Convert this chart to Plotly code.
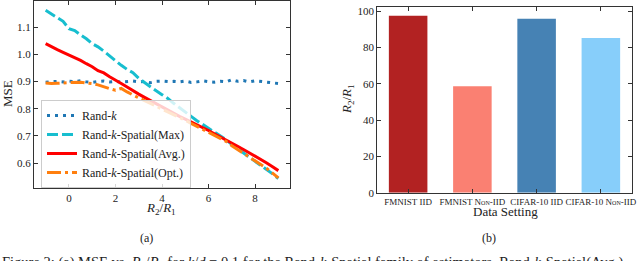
import plotly.graph_objects as go

W, H = 640, 261

# ---------------- data ----------------
ratio_x = [-1.0, -0.75, -0.5, -0.25, 0.0, 0.25, 0.5, 0.75, 1.0, 1.25, 1.5, 1.75,
           2.0, 2.25, 2.5, 2.75, 3.0, 3.25, 3.5, 3.75, 4.0, 4.25, 4.5, 4.75,
           5.0, 5.25, 5.5, 5.75, 6.0, 6.25, 6.5, 6.75, 7.0, 7.25, 7.5, 7.75,
           8.0, 8.25, 8.5, 8.75, 9.0]

mse_randk = [0.898, 0.900, 0.901, 0.899, 0.902, 0.900, 0.903, 0.899, 0.897, 0.900,
             0.902, 0.899, 0.901, 0.898, 0.900, 0.902, 0.899, 0.901, 0.896, 0.901,
             0.902, 0.900, 0.901, 0.899, 0.902, 0.897, 0.899, 0.903, 0.900, 0.898,
             0.901, 0.899, 0.907, 0.901, 0.904, 0.899, 0.903, 0.900, 0.899, 0.896,
             0.893]

mse_max = [1.163, 1.150, 1.138, 1.122, 1.095, 1.088, 1.072, 1.058, 1.040, 1.028,
           1.012, 0.995, 0.975, 0.960, 0.945, 0.933, 0.912, 0.896, 0.880, 0.866,
           0.852, 0.838, 0.820, 0.805, 0.790, 0.772, 0.756, 0.742, 0.728, 0.714,
           0.700, 0.686, 0.668, 0.653, 0.638, 0.622, 0.607, 0.592, 0.577, 0.560,
           0.543]

mse_avg = [1.040, 1.028, 1.018, 1.008, 0.998, 0.990, 0.978, 0.966, 0.955, 0.940,
           0.932, 0.918, 0.904, 0.893, 0.880, 0.866, 0.854, 0.842, 0.830, 0.818,
           0.808, 0.796, 0.784, 0.772, 0.762, 0.752, 0.740, 0.729, 0.720, 0.708,
           0.697, 0.686, 0.672, 0.662, 0.650, 0.638, 0.626, 0.612, 0.600, 0.586,
           0.572]

mse_opt = [0.895, 0.893, 0.894, 0.895, 0.897, 0.899, 0.898, 0.895, 0.893, 0.888,
           0.880, 0.874, 0.868, 0.875, 0.862, 0.850, 0.840, 0.830, 0.820, 0.810,
           0.800, 0.790, 0.778, 0.767, 0.757, 0.746, 0.735, 0.724, 0.714, 0.703,
           0.692, 0.680, 0.664, 0.650, 0.637, 0.622, 0.610, 0.595, 0.580, 0.563,
           0.545]

settings = ["FMNIST IID", "FMNIST Non-IID", "CIFAR-10 IID", "CIFAR-10 Non-IID"]
setting_ratio = [97.4, 58.6, 95.8, 85.1]
bar_colors = ["#b22222", "#fa8072", "#4682b4", "#87cefa"]

left_xticks = [0, 2, 4, 6, 8]
left_yticks = [0.6, 0.7, 0.8, 0.9, 1.0, 1.1]
right_yticks = [0, 20, 40, 60, 80, 100]

# ---------------- helpers ----------------
def px(x):
    return x / W

def py(y):
    return 1 - y / H

FONT = "Liberation Serif, Times New Roman, serif"
FRAME = "#333333"
R21 = "<i>R</i><sub>2</sub>/<i>R</i><sub>1</sub>"

fig = go.Figure()

fig.add_trace(go.Scatter(x=ratio_x, y=mse_randk, mode="lines", name="Rand-<i>k</i>",
                         line=dict(color="#1f77b4", width=3, dash="3px,5px"),
                         xaxis="x", yaxis="y"))
fig.add_trace(go.Scatter(x=ratio_x, y=mse_max, mode="lines", name="Rand-<i>k</i>-Spatial(Max)",
                         line=dict(color="#17becf", width=3, dash="11px,4px"),
                         xaxis="x", yaxis="y"))
fig.add_trace(go.Scatter(x=ratio_x, y=mse_avg, mode="lines", name="Rand-<i>k</i>-Spatial(Avg.)",
                         line=dict(color="#ff0000", width=3),
                         xaxis="x", yaxis="y"))
fig.add_trace(go.Scatter(x=ratio_x, y=mse_opt, mode="lines", name="Rand-<i>k</i>-Spatial(Opt.)",
                         line=dict(color="#ff7f0e", width=3, dash="14px,4px,3px,4px"),
                         xaxis="x", yaxis="y"))

fig.add_trace(go.Bar(x=list(range(len(settings))), y=setting_ratio, width=0.6,
                     marker=dict(color=bar_colors, line=dict(width=0)),
                     showlegend=False, xaxis="x2", yaxis="y2"))

axis_common = dict(showline=True, linecolor=FRAME, linewidth=1, mirror="ticks",
                   ticks="inside", ticklen=4, tickcolor=FRAME, showgrid=False,
                   zeroline=False, automargin=False,
                   tickfont=dict(family=FONT, size=11, color="#222"))

fig.update_layout(
    width=W, height=H,
    margin=dict(l=0, r=0, t=0, b=0),
    paper_bgcolor="white", plot_bgcolor="white",
    font=dict(family=FONT, color="#222"),
    xaxis=dict(domain=[px(34), px(290)], range=[-1.5, 9.5], tickvals=left_xticks,
               anchor="y", **axis_common),
    yaxis=dict(domain=[py(188), py(1)], range=[0.508, 1.197], tickvals=left_yticks,
               tickformat=".1f", anchor="x", **axis_common),
    xaxis2=dict(domain=[px(377.3), px(631.7)], range=[-0.48, 3.48],
                tickvals=list(range(len(settings))), ticktext=settings,
                anchor="y2", **{**axis_common,
                                "tickfont": dict(family=FONT, size=9, color="#222",
                                                 variant="small-caps")}),
    yaxis2=dict(domain=[py(192.7), py(6.7)], range=[0, 102.4], tickvals=right_yticks,
                anchor="x2", **axis_common),
    legend=dict(x=px(41), y=py(100), xanchor="left", yanchor="top",
                bgcolor="rgba(255,255,255,0.8)", bordercolor="#cccccc", borderwidth=1,
                font=dict(family=FONT, size=12, color="#222"),
                tracegroupgap=0, itemwidth=30),
    showlegend=True,
)

ann = [
    dict(x=px(8), y=py(94), text="MSE", textangle=-90, size=13),
    dict(x=px(161), y=py(208), text=R21, size=13),
    dict(x=px(347), y=py(99), text=R21, textangle=-90, size=13),
    dict(x=px(505), y=py(211), text="Data Setting", size=13),
    dict(x=px(146), y=py(238), text="(a)", size=12),
    dict(x=px(489), y=py(238), text="(b)", size=12),
]
for a in ann:
    size = a.pop("size")
    fig.add_annotation(xref="paper", yref="paper", showarrow=False,
                       xanchor="center", yanchor="middle",
                       font=dict(family=FONT, size=size, color="#222"), **a)

fig.add_annotation(xref="paper", yref="paper", x=0, y=py(252), xanchor="left", yanchor="top",
                   showarrow=False, align="left",
                   text=("Figure 2: (a) MSE vs. " + R21 + " for <i>k</i>/<i>d</i> = 0.1 for the "
                         "Rand-<i>k</i>-Spatial family of estimators. Rand-<i>k</i>-Spatial(Avg.)"),
                   font=dict(family=FONT, size=14.5, color="#222"))

fig.write_html("out.html", config={"displayModeBar": False},
               post_script="document.body.style.margin='0';document.body.style.overflow='hidden';")
